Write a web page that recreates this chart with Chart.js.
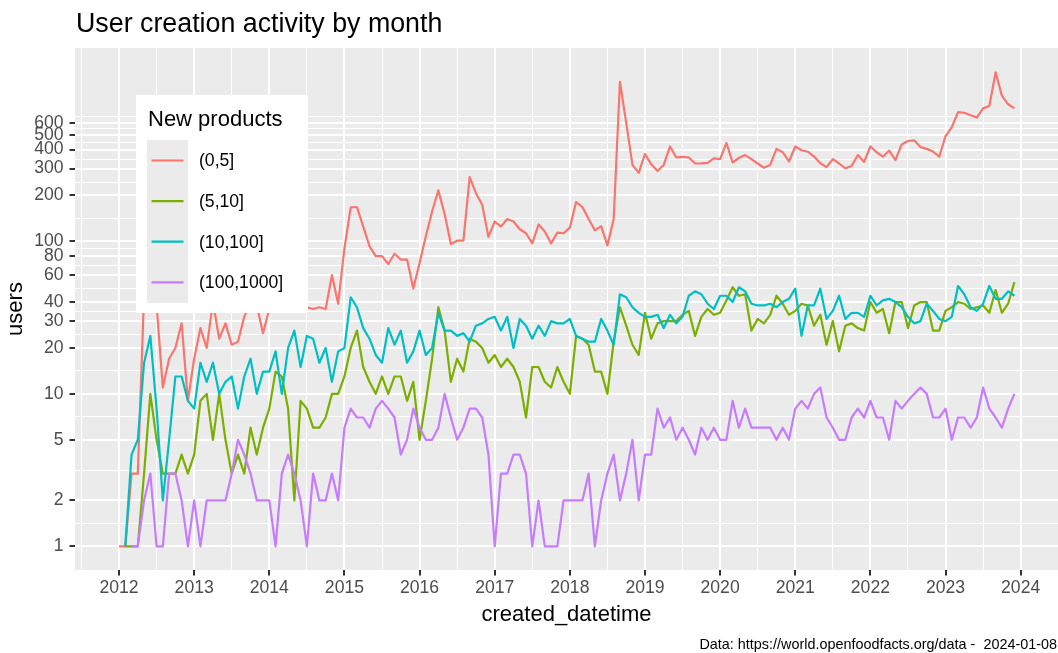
<!DOCTYPE html>
<html>
<head>
<meta charset="utf-8">
<title>User creation activity by month</title>
<script src="https://cdn.jsdelivr.net/npm/chart.js@4.4.1/dist/chart.umd.min.js"></script>
<style>
html, body { margin: 0; padding: 0; background: #ffffff; }
#chart { display: block; }
</style>
</head>
<body>
<canvas id="chart" width="1058" height="653"></canvas>
<script>
// monthly counts, January 2012 to December 2023 (one row per year)
let startYear = 2012;
let seriesNames = ["(0,5]", "(5,10]", "(10,100]", "(100,1000]"];
let seriesColors = ["#F8766D", "#7CAE00", "#00BFC4", "#C77CFF"];

let users0to5 = [
	1, 1, 3, 3, 45, 55, 38, 11, 17, 20, 29, 9,
	17, 27, 20, 40, 23, 29, 21, 22, 32, 40, 38, 25,
	36, 40, 45, 42, 38, 40, 37, 36, 37, 36, 60, 39,
	90, 167, 168, 125, 93, 80, 80, 71, 83, 76, 76, 49,
	72, 108, 157, 216, 151, 96, 101, 101, 264, 207, 174, 107,
	135, 125, 140, 135, 120, 113, 97, 129, 116, 97, 114, 113,
	123, 181, 168, 140, 118, 126, 94, 140, 1110, 600, 317, 281,
	374, 320, 289, 317, 419, 355, 358, 355, 324, 325, 327, 350,
	346, 442, 329, 352, 368, 346, 324, 304, 317, 404, 384, 334,
	419, 396, 387, 360, 325, 307, 346, 324, 301, 312, 368, 332,
	419, 384, 359, 394, 341, 432, 455, 460, 415, 404, 388, 359,
	490, 560, 703, 697, 671, 648, 745, 772, 1282, 902, 792, 745
];
let users5to10 = [
	null, 1, 1, 1, 3, 10, 5, 3, 3, 3, 4, 3,
	4, 9, 10, 5, 10, 5, 3, 4, 3, 6, 4, 6,
	8, 14, 13, 8, 2, 9, 8, 6, 6, 7, 10, 10,
	13, 20, 26, 15, 12, 10, 13, 10, 13, 13, 9, 12,
	5, 9, 17, 37, 26, 12, 17, 14, 23, 22, 20, 16,
	18, 15, 17, 15, 12, 7, 15, 15, 12, 11, 15, 12,
	10, 24, 23, 21, 14, 14, 10, 22, 37, 28, 21, 18,
	34, 23, 29, 30, 30, 30, 33, 35, 24, 32, 36, 33,
	34, 41, 50, 44, 45, 26, 31, 29, 33, 44, 39, 33,
	35, 39, 38, 28, 33, 21, 30, 19, 28, 29, 27, 26,
	40, 34, 36, 25, 40, 40, 27, 38, 40, 40, 26, 26,
	35, 37, 40, 39, 36, 37, 38, 34, 48, 34, 39, 54
];
let users10to100 = [
	null, 1, 4, 5, 16, 24, 8, 2, 5, 13, 13, 9,
	8, 16, 12, 16, 10, 12, 13, 8, 13, 17, 10, 14,
	14, 19, 10, 20, 26, 15, 24, 23, 16, 20, 12, 19,
	20, 43, 37, 27, 23, 18, 16, 27, 21, 26, 16, 19,
	26, 18, 20, 34, 26, 26, 24, 25, 22, 28, 29, 31,
	32, 26, 32, 20, 31, 28, 23, 28, 24, 30, 29, 29,
	31, 24, 23, 22, 22, 31, 26, 21, 45, 43, 37, 34,
	32, 32, 33, 27, 33, 29, 32, 44, 47, 45, 39, 36,
	44, 44, 40, 50, 47, 39, 38, 38, 39, 37, 40, 42,
	49, 24, 38, 38, 49, 31, 35, 44, 31, 34, 34, 32,
	44, 38, 41, 42, 40, 37, 32, 29, 30, 39, 35, 31,
	30, 32, 51, 45, 37, 35, 39, 51, 42, 42, 47, 44
];
let users100to1000 = [
	null, null, 1, 1, 2, 3, 1, 1, 3, 3, 2, 1,
	2, 1, 2, 2, 2, 2, 3, 5, 4, 3, 2, 2,
	2, 1, 3, 4, 3, 2, 1, 3, 2, 2, 3, 2,
	6, 8, 7, 7, 6, 8, 9, 8, 7, 4, 5, 8,
	6, 5, 5, 6, 10, 7, 5, 6, 8, 8, 7, 4,
	1, 3, 3, 4, 4, 3, 1, 2, 1, 1, 1, 2,
	2, 2, 2, 3, 1, 2, 3, 4, 2, 3, 5, 2,
	4, 4, 8, 6, 7, 5, 6, 5, 4, 6, 5, 6,
	5, 5, 9, 6, 8, 6, 6, 6, 6, 5, 6, 5,
	8, 9, 8, 10, 11, 7, 6, 5, 5, 7, 8, 7,
	9, 7, 7, 5, 9, 8, 9, 10, 11, 10, 7, 7,
	8, 5, 7, 7, 6, 7, 11, 8, 7, 6, 8, 10
];

let yearTicks = [2012, 2013, 2014, 2015, 2016, 2017, 2018, 2019, 2020, 2021, 2022, 2023, 2024];
let yBreaks = [1, 2, 5, 10, 20, 30, 40, 60, 80, 100, 200, 300, 400, 500, 600];

let fontFamily = '"Liberation Sans", Arial, sans-serif';

// minor grid lines sit halfway (in log space) between the breaks
let yMinor = [];
for (let i = 0; i < yBreaks.length - 1; i++) {
	yMinor.push(Math.sqrt(yBreaks[i] * yBreaks[i + 1]));
}
yMinor.push(Math.sqrt(600 * 720));

let xMinor = [2011.5];
for (let i = 0; i < yearTicks.length - 1; i++) {
	xMinor.push(yearTicks[i] + 0.5);
}

function toPoints(values) {
	let points = [];
	for (let i = 0; i < values.length; i++) {
		points.push({ x: startYear + i / 12, y: values[i] });
	}
	return points;
}

let allSeries = [users0to5, users5to10, users10to100, users100to1000];
let datasets = [];
for (let i = 0; i < allSeries.length; i++) {
	datasets.push({
		label: seriesNames[i],
		data: toPoints(allSeries[i]),
		borderColor: seriesColors[i],
		backgroundColor: seriesColors[i],
		borderWidth: 2.2,
		pointRadius: 0,
		tension: 0,
		fill: false,
		spanGaps: false,
		borderJoinStyle: "round",
		order: allSeries.length - i
	});
}

function isYBreak(value) {
	return yBreaks.indexOf(value) >= 0;
}

let panelBackground = {
	id: "panelBackground",
	beforeDraw(chart) {
		let a = chart.chartArea;
		let ctx = chart.ctx;
		ctx.save();
		ctx.fillStyle = "#EBEBEB";
		ctx.fillRect(a.left, a.top, a.right - a.left, a.bottom - a.top);
		ctx.restore();
	}
};

let insideLegend = {
	id: "insideLegend",
	afterDatasetsDraw(chart) {
		let ctx = chart.ctx;
		ctx.save();
		ctx.fillStyle = "#FFFFFF";
		ctx.fillRect(136, 95, 172, 218);

		ctx.fillStyle = "#000000";
		ctx.font = "22px " + fontFamily;
		ctx.textBaseline = "alphabetic";
		ctx.textAlign = "left";
		ctx.fillText("New products", 148, 126);

		ctx.fillStyle = "#EBEBEB";
		ctx.fillRect(147, 140, 41, 163);

		ctx.font = "17.6px " + fontFamily;
		ctx.textBaseline = "middle";
		for (let i = 0; i < seriesNames.length; i++) {
			let cy = 160.5 + i * 40.6;
			ctx.strokeStyle = seriesColors[i];
			ctx.lineWidth = 2.2;
			ctx.beginPath();
			ctx.moveTo(151.5, cy);
			ctx.lineTo(183.5, cy);
			ctx.stroke();
			ctx.fillStyle = "#000000";
			ctx.fillText(seriesNames[i], 199, cy + 1);
		}
		ctx.restore();
	}
};

let plotTexts = {
	id: "plotTexts",
	afterDraw(chart) {
		let ctx = chart.ctx;
		ctx.save();
		ctx.fillStyle = "#000000";
		ctx.textBaseline = "alphabetic";
		ctx.font = "26.8px " + fontFamily;
		ctx.textAlign = "left";
		ctx.fillText("User creation activity by month", 76, 31.5);
		ctx.font = "14.4px " + fontFamily;
		ctx.textAlign = "right";
		ctx.fillText("Data: https://world.openfoodfacts.org/data -  2024-01-08", 1057, 649);
		ctx.restore();
	}
};

let chartCanvas = document.getElementById("chart").getContext("2d");

let config = {
	type: "line",
	data: { datasets: datasets },
	options: {
		responsive: false,
		animation: false,
		devicePixelRatio: 1,
		events: [],
		layout: { padding: { top: 48, left: 0, right: 0, bottom: 0 } },
		plugins: {
			legend: { display: false },
			tooltip: { enabled: false },
			title: { display: false }
		},
		scales: {
			x: {
				type: "linear",
				min: 2011.414,
				max: 2024.497,
				afterFit: function (scale) { scale.height = 83; },
				afterBuildTicks: function (scale) {
					let ticks = [];
					for (let i = 0; i < yearTicks.length; i++) ticks.push({ value: yearTicks[i] });
					for (let i = 0; i < xMinor.length; i++) ticks.push({ value: xMinor[i] });
					ticks.sort(function (a, b) { return a.value - b.value; });
					scale.ticks = ticks;
				},
				border: { display: false },
				grid: {
					color: "#FFFFFF",
					lineWidth: function (c) { return c.tick && Number.isInteger(c.tick.value) ? 2 : 1; },
					drawTicks: true,
					tickLength: 5.5,
					tickWidth: 2,
					tickColor: function (c) { return c.tick && Number.isInteger(c.tick.value) ? "#333333" : "rgba(0,0,0,0)"; }
				},
				ticks: {
					autoSkip: false,
					maxRotation: 0,
					padding: 2.5,
					color: "#4D4D4D",
					font: { family: fontFamily, size: 17.6 },
					callback: function (value) { return Number.isInteger(value) ? String(value) : ""; }
				},
				title: {
					display: true,
					text: "created_datetime",
					color: "#000000",
					font: { family: fontFamily, size: 22 },
					padding: { top: 0, bottom: 25 }
				}
			},
			y: {
				type: "logarithmic",
				min: 0.7071,
				max: 1853,
				afterFit: function (scale) { scale.width = 75; },
				afterBuildTicks: function (scale) {
					let ticks = [];
					for (let i = 0; i < yBreaks.length; i++) ticks.push({ value: yBreaks[i] });
					for (let i = 0; i < yMinor.length; i++) ticks.push({ value: yMinor[i] });
					ticks.sort(function (a, b) { return a.value - b.value; });
					scale.ticks = ticks;
				},
				border: { display: false },
				grid: {
					color: "#FFFFFF",
					lineWidth: function (c) { return c.tick && isYBreak(c.tick.value) ? 2 : 1; },
					drawTicks: true,
					tickLength: 5.5,
					tickWidth: 2,
					tickColor: function (c) { return c.tick && isYBreak(c.tick.value) ? "#333333" : "rgba(0,0,0,0)"; }
				},
				ticks: {
					autoSkip: false,
					padding: 6,
					color: "#4D4D4D",
					font: { family: fontFamily, size: 17.6 },
					callback: function (value) { return isYBreak(value) ? String(value) : ""; }
				},
				title: {
					display: true,
					text: "users",
					color: "#000000",
					font: { family: fontFamily, size: 22 },
					padding: { top: 2.5, bottom: 0 }
				}
			}
		}
	},
	plugins: [panelBackground, insideLegend, plotTexts]
};

let userChart = new Chart(chartCanvas, config);
</script>
</body>
</html>
